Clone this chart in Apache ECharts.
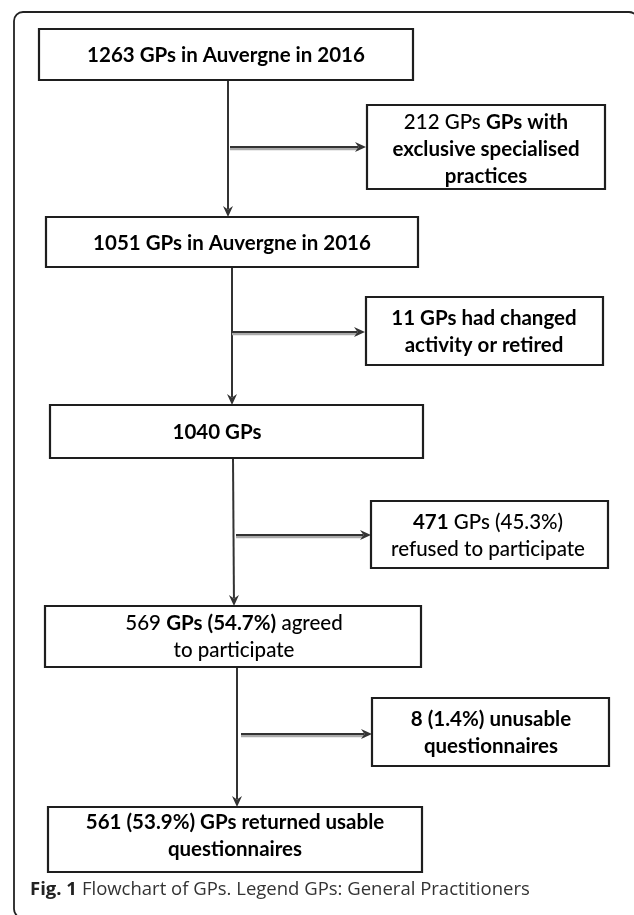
<!DOCTYPE html>
<html>
<head>
<meta charset="utf-8">
<script src="https://cdn.jsdelivr.net/npm/echarts@6/dist/echarts.min.js"></script>
<style>
html,body{margin:0;padding:0;background:#fff;}
#chart{width:634px;height:915px;}
</style>
</head>
<body>
<div id="chart"></div>
<script>
// ---- data ----
const region = 'Auvergne';
const year = 2016;
const stepCounts = [1263, 212, 1051, 11, 1040, 471, 569, 8, 561];
const stepPercents = [null, null, null, null, null, 45.3, 54.7, 1.4, 53.9];
const captionLabel = 'Fig. 1';
const captionText = 'Flowchart of GPs. Legend GPs: General Practitioners';

// ---- labels built from data ----
const boxLabels = [
  `{b|${stepCounts[0]} GPs in ${region} in ${year}}`,
  `{r|${stepCounts[1]} GPs} {b|GPs with}\n{b|exclusive specialised}\n{b|practices}`,
  `{b|${stepCounts[2]} GPs in ${region} in ${year}}`,
  `{b|${stepCounts[3]} GPs had changed}\n{b|activity or retired}`,
  `{b|${stepCounts[4]} GPs}`,
  `{b|${stepCounts[5]}} {r|GPs (${stepPercents[5]}%)}\n{r|refused to participate}`,
  `{r|${stepCounts[6]}} {b|GPs (${stepPercents[6]}%)} {r|agreed}\n{r|to participate}`,
  `{b|${stepCounts[7]} (${stepPercents[7]}%) unusable}\n{b|questionnaires}`,
  `{b|${stepCounts[8]} (${stepPercents[8]}%) GPs returned usable}\n{b|questionnaires}`
];

// ---- layout (page units) ----
// [x0, y0, x1, y1, textCx, textCy]
const boxLayout = [
  [39, 29, 413, 80, 226, 55],
  [367, 105, 605, 189, 486, 149],
  [46, 217, 418, 267, 232, 243],
  [366, 297, 603, 365, 484, 332],
  [50, 405, 423, 458, 217, 432],
  [371, 501, 608, 568, 488, 536],
  [45, 606, 421, 667, 234, 637],
  [372, 698, 609, 766, 491, 733],
  [48, 807, 422, 872, 235, 836]
];
// [x1, y1, x2, y2, shadowed]
const arrowLayout = [
  [228, 80, 228, 217, 0],
  [232, 267, 232, 405, 0],
  [233, 458, 234, 606, 0],
  [237, 667, 237, 807, 0],
  [230, 147, 366, 147, 1],
  [232, 332, 365, 332, 1],
  [236, 535, 371, 535, 1],
  [241, 734, 372, 734, 1]
];
const frameLayout = [[14, 12, 638, 918]];

const FONT = 'Lato, "Open Sans", sans-serif';
const FS = 20.5;
const RICH = {
  b: {fontFamily: FONT, fontWeight: 'bold', fontSize: FS, color: '#222', lineHeight: 27},
  r: {fontFamily: FONT, fontWeight: 500, fontSize: FS, color: '#333', lineHeight: 27}
};

const chart = echarts.init(document.getElementById('chart'), null, {renderer: 'canvas'});
chart.setOption({
  animation: false,
  backgroundColor: '#fff',
  title: {
    left: 30, top: 880, padding: 0,
    text: `{b|${captionLabel}} {r|${captionText}}`,
    textStyle: {
      rich: {
        b: {fontFamily: '"Open Sans", sans-serif', fontWeight: 'bold', fontSize: 18.5, color: '#222'},
        r: {fontFamily: '"Open Sans", sans-serif', fontWeight: 'normal', fontSize: 18.5, color: '#333'}
      }
    }
  },
  grid: {left: 0, right: 0, top: 0, bottom: 0},
  xAxis: {type: 'value', min: 0, max: 634, show: false},
  yAxis: {type: 'value', min: 0, max: 915, inverse: true, show: false},
  series: [
    {
      type: 'custom', silent: true, z: 1,
      data: frameLayout,
      encode: {x: [0, 2], y: [1, 3]},
      renderItem: (params, api) => {
        const f = frameLayout[params.dataIndex];
        const a = api.coord([f[0], f[1]]), b = api.coord([f[2], f[3]]);
        return {type: 'rect', shape: {x: a[0], y: a[1], width: b[0] - a[0], height: b[1] - a[1], r: 9},
          style: {fill: 'none', stroke: '#222', lineWidth: 1.8}};
      }
    },
    {
      type: 'custom', silent: true, z: 2,
      data: arrowLayout,
      encode: {x: [0, 2], y: [1, 3]},
      renderItem: (params, api) => {
        const d = arrowLayout[params.dataIndex];
        const p1 = api.coord([d[0], d[1]]), p2 = api.coord([d[2], d[3]]);
        const dx = p2[0] - p1[0], dy = p2[1] - p1[1];
        const len = Math.sqrt(dx * dx + dy * dy);
        const ux = dx / len, uy = dy / len;
        const hl = 11, hw = 5;
        const base = [p2[0] - ux * hl, p2[1] - uy * hl];
        const children = [];
        if (d[4]) {
          children.push({type: 'line', shape: {x1: p1[0], y1: p1[1] + 2.2, x2: base[0] + 4, y2: base[1] + 2.2},
            style: {stroke: '#aaa', lineWidth: 2.2}});
        }
        children.push({type: 'line', shape: {x1: p1[0], y1: p1[1], x2: base[0] + ux * 3, y2: base[1] + uy * 3},
          style: {stroke: '#333', lineWidth: 2}});
        children.push({type: 'polygon', shape: {points: [
          [p2[0], p2[1]],
          [base[0] - uy * hw, base[1] + ux * hw],
          [base[0] + ux * 3.5, base[1] + uy * 3.5],
          [base[0] + uy * hw, base[1] - ux * hw]
        ]}, style: {fill: '#333'}});
        return {type: 'group', children};
      }
    },
    {
      type: 'custom', silent: true, z: 3,
      data: boxLayout,
      encode: {x: [0, 2], y: [1, 3]},
      renderItem: (params, api) => {
        const i = params.dataIndex;
        const b = boxLayout[i];
        const a = api.coord([b[0], b[1]]), c = api.coord([b[2], b[3]]);
        const t = api.coord([b[4], b[5]]);
        return {type: 'group', children: [
          {type: 'rect', shape: {x: a[0], y: a[1], width: c[0] - a[0], height: c[1] - a[1]},
            style: {fill: '#fff', stroke: '#1e1e1e', lineWidth: 2.2}},
          {type: 'text', x: t[0], y: t[1],
            style: {text: boxLabels[i], rich: RICH, align: 'center', verticalAlign: 'middle',
              fontFamily: FONT, fontSize: FS, lineHeight: 27}}
        ]};
      }
    }
  ]
});
</script>
</body>
</html>
